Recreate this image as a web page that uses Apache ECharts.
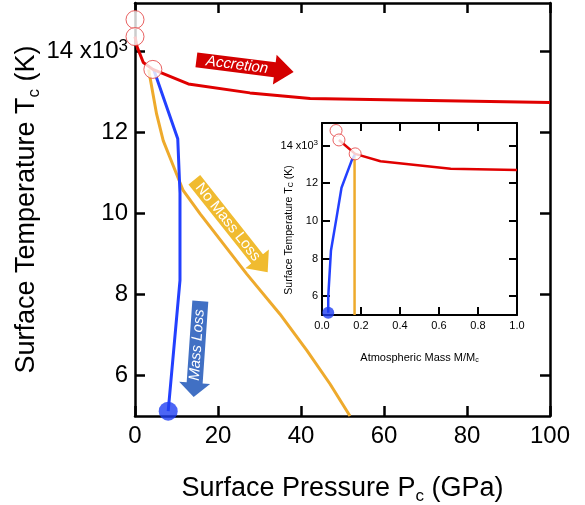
<!DOCTYPE html>
<html>
<head>
<meta charset="utf-8">
<script src="https://cdn.jsdelivr.net/npm/echarts@6/dist/echarts.min.js"></script>
<style>html,body{margin:0;padding:0;background:#fff}#c{width:585px;height:505px}</style>
</head>
<body>
<div id="c"></div>
<script>
// ---- Data (main panel: surface pressure [GPa] vs surface temperature [10^3 K]) ----
const accretionMain = [[0,14.37],[0.5,14.12],[2.0,13.73],[4.3,13.56],[12.85,13.2],[27.7,12.98],[42.2,12.84],[100,12.74]];
const accretionCirclesMain = [[0,14.79],[0,14.37],[4.3,13.56]];
const massLossMain = [[4.5,13.56],[10.3,11.85],[10.84,10.5],[10.84,8.35],[8.0,5.12]];
const massLossEndMain = [[8.0,5.12]];
const noMassLossMain = [[3.3,13.56],[3.6,13.37],[5.2,12.46],[6.8,11.8],[8.4,11.39],[11.6,10.57],[15.7,9.99],[21.3,9.25],[26.9,8.51],[34.9,7.52],[41.4,6.62],[47.0,5.79],[51.8,5.0]];
// ---- Inset: atmospheric mass M/Mc vs surface temperature ----
const accretionInset = [[0.087,14.3],[0.17,13.56],[0.30,13.17],[0.66,12.77],[1.0,12.7]];
const accretionCirclesInset = [[0.072,14.8],[0.087,14.3],[0.17,13.56]];
const massLossInset = [[0.17,13.56],[0.152,13.2],[0.10,11.76],[0.075,10.2],[0.046,8.43],[0.032,5.98],[0.032,5.12]];
const massLossEndInset = [[0.032,5.12]];
const noMassLossInset = [[0.167,13.45],[0.167,5.0]];
// ---- Tick labels ----
const mainXTicks = [0,20,40,60,80,100];
const mainYTicks = [6,8,10,12,14];
const insetXTicks = [0,0.2,0.4,0.6,0.8,1.0];
const insetYTicks = [6,8,10,12,14];

const FONT = 'Liberation Sans, Arial, Helvetica, sans-serif';
const RED = '#e00000', BLUE = '#2340ff', ORANGE = '#eeaa2c';

function yFmt(v){ return v === 14 ? '{n|14 x10}{s|3}' : '{n|' + v + '}'; }

const chart = echarts.init(document.getElementById('c'), null, {renderer:'canvas'});

function xAx(grid, top, ticks, big){
  return {
    gridIndex: grid, type:'value', position: top ? 'top' : 'bottom',
    min: ticks[0], max: ticks[ticks.length-1], interval: ticks[1]-ticks[0],
    axisLine:{show:true, onZero:false, lineStyle:{color:'#000', width: big?2.5:2}},
    axisTick:{show:true, inside:true, length: big?10:8, lineStyle:{color:'#000', width: big?2.5:2}},
    splitLine:{show:false},
    nameMoveOverlap:false,
    axisLabel:{show: !top, color:'#000', fontFamily:FONT, fontSize: big?24:11, margin: big?8:5,
      formatter: big ? (v)=>String(v) : (v)=>v.toFixed(1)}
  };
}
function yAx(grid, right, ticks, big){
  return {
    gridIndex: grid, type:'value', position: right ? 'right' : 'left',
    min: 5, max: 15.2,
    axisLine:{show:true, onZero:false, lineStyle:{color:'#000', width: big?2.5:2}},
    axisTick:{show:true, inside:true, length: big?10:8, customValues: ticks, lineStyle:{color:'#000', width: big?2.5:2}},
    splitLine:{show:false},
    nameMoveOverlap:false,
    axisLabel:{show: !right, customValues: ticks, color:'#000', fontFamily:FONT, margin: big?7:4,
      formatter: yFmt,
      rich: big ? {n:{fontSize:24, fontFamily:FONT, color:'#000', lineHeight:28}, s:{fontSize:17, fontFamily:FONT, color:'#000', verticalAlign:'top', lineHeight:18}}
                : {n:{fontSize:11, fontFamily:FONT, color:'#000', lineHeight:13}, s:{fontSize:8, fontFamily:FONT, color:'#000', verticalAlign:'top', lineHeight:8}}
    }
  };
}

const xAxes = [xAx(0,false,mainXTicks,true), xAx(0,true,mainXTicks,true), xAx(1,false,insetXTicks,false), xAx(1,true,insetXTicks,false)];
xAxes[0].name = '{a|Surface Pressure P}{s|c}{a| (GPa)}';
xAxes[0].nameLocation = 'middle';
xAxes[0].nameGap = 57;
xAxes[0].nameTextStyle = {rich:{a:{fontSize:27, fontFamily:FONT, color:'#000', lineHeight:32}, s:{fontSize:17, fontFamily:FONT, color:'#000', verticalAlign:'bottom', lineHeight:16}}};
xAxes[2].name = '{a|Atmospheric Mass M/M}{s|c}';
xAxes[2].nameLocation = 'middle';
xAxes[2].nameGap = 36;
xAxes[2].nameTextStyle = {rich:{a:{fontSize:11, fontFamily:FONT, color:'#000', lineHeight:13}, s:{fontSize:7, fontFamily:FONT, color:'#000', verticalAlign:'bottom', lineHeight:7}}};

const yAxes = [yAx(0,false,mainYTicks,true), yAx(0,true,mainYTicks,true), yAx(1,false,insetYTicks,false), yAx(1,true,insetYTicks,false)];
yAxes[0].name = '{a|Surface Temperature T}{s|c}{a| (K)}';
yAxes[0].nameLocation = 'middle';
yAxes[0].nameGap = 92;
yAxes[0].nameTextStyle = {rich:{a:{fontSize:27, fontFamily:FONT, color:'#000', lineHeight:32}, s:{fontSize:17, fontFamily:FONT, color:'#000', verticalAlign:'bottom', lineHeight:16}}};
yAxes[2].name = '{a|Surface Temperature T}{s|C}{a| (K)}';
yAxes[2].nameLocation = 'middle';
yAxes[2].nameGap = 27;
yAxes[2].nameTextStyle = {padding:[0,22,0,0], rich:{a:{fontSize:10.5, fontFamily:FONT, color:'#000', lineHeight:12}, s:{fontSize:7, fontFamily:FONT, color:'#000', verticalAlign:'bottom', lineHeight:7}}};

function lineS(data, color, xi, w){
  return {type:'line', data, xAxisIndex:xi, yAxisIndex:xi, showSymbol:false, symbol:'none', clip:false,
    lineStyle:{color, width:w, join:'round'}, z:3, animation:false};
}
function circS(data, xi, size, filled){
  return {type:'scatter', data, xAxisIndex:xi, yAxisIndex:xi, symbol:'circle', symbolSize:size, clip:false, z:5, animation:false,
    itemStyle: filled ? {color:'#1f3ef2', borderWidth:0} : {color:'#fff', borderColor:'#e23a3a', borderWidth:1}};
}

const series = [
  lineS(noMassLossMain, ORANGE, 0, 3),
  lineS(massLossMain, BLUE, 0, 3),
  lineS(accretionMain, RED, 0, 3),
  circS(accretionCirclesMain, 0, 18, false),
  circS(massLossEndMain, 0, 19, true),
  lineS(noMassLossInset, ORANGE, 2, 2.5),
  lineS(massLossInset, BLUE, 2, 2.5),
  lineS(accretionInset, RED, 2, 2.5),
  circS(accretionCirclesInset, 2, 12, false),
  circS(massLossEndInset, 2, 12, true)
];

function arrow(bodyHalf, headHalf, tail, headBase, tip){
  return [[tail,-bodyHalf],[headBase,-bodyHalf],[headBase,-headHalf],[tip,0],[headBase,headHalf],[headBase,bodyHalf],[tail,bodyHalf]];
}

const graphic = [
  {type:'group', x:245, y:66, rotation:-0.125, z:10, children:[
    {type:'polygon', shape:{points: arrow(7.5,15,-49,30,49)}, style:{fill:'#d40000'}},
    {type:'text', x:-8, y:0, style:{text:'Accretion', fill:'#fff', font:'italic 15px ' + FONT, align:'center', verticalAlign:'middle'}}
  ]},
  {type:'group', x:231, y:226, rotation:-0.90, z:10, children:[
    {type:'polygon', shape:{points: arrow(7.5,15,-59,42,59)}, style:{fill:'#f0bb30'}},
    {type:'text', x:-5, y:0, style:{text:'No Mass Loss', fill:'#fff', font:'15px ' + FONT, align:'center', verticalAlign:'middle'}}
  ]},
  {type:'group', x:197, y:349, rotation:-1.64, z:10, children:[
    {type:'polygon', shape:{points: arrow(8,15.5,-48,34,48)}, style:{fill:'#4170c4'}}
  ]},
  {type:'text', x:197, y:345, rotation:1.50, z:11, style:{text:'Mass Loss', fill:'#fff', font:'italic 15px ' + FONT, align:'center', verticalAlign:'middle'}}
];

chart.setOption({
  animation:false,
  backgroundColor:'#fff',
  grid:[
    {left:135, top:3, width:415, height:413, containLabel:false, outerBoundsMode:'none'},
    {left:322, top:123, width:195, height:192, show:true, backgroundColor:'#fff', borderWidth:0, containLabel:false, outerBoundsMode:'none'}
  ],
  xAxis: xAxes,
  yAxis: yAxes,
  series,
  graphic
});
</script>
</body>
</html>
